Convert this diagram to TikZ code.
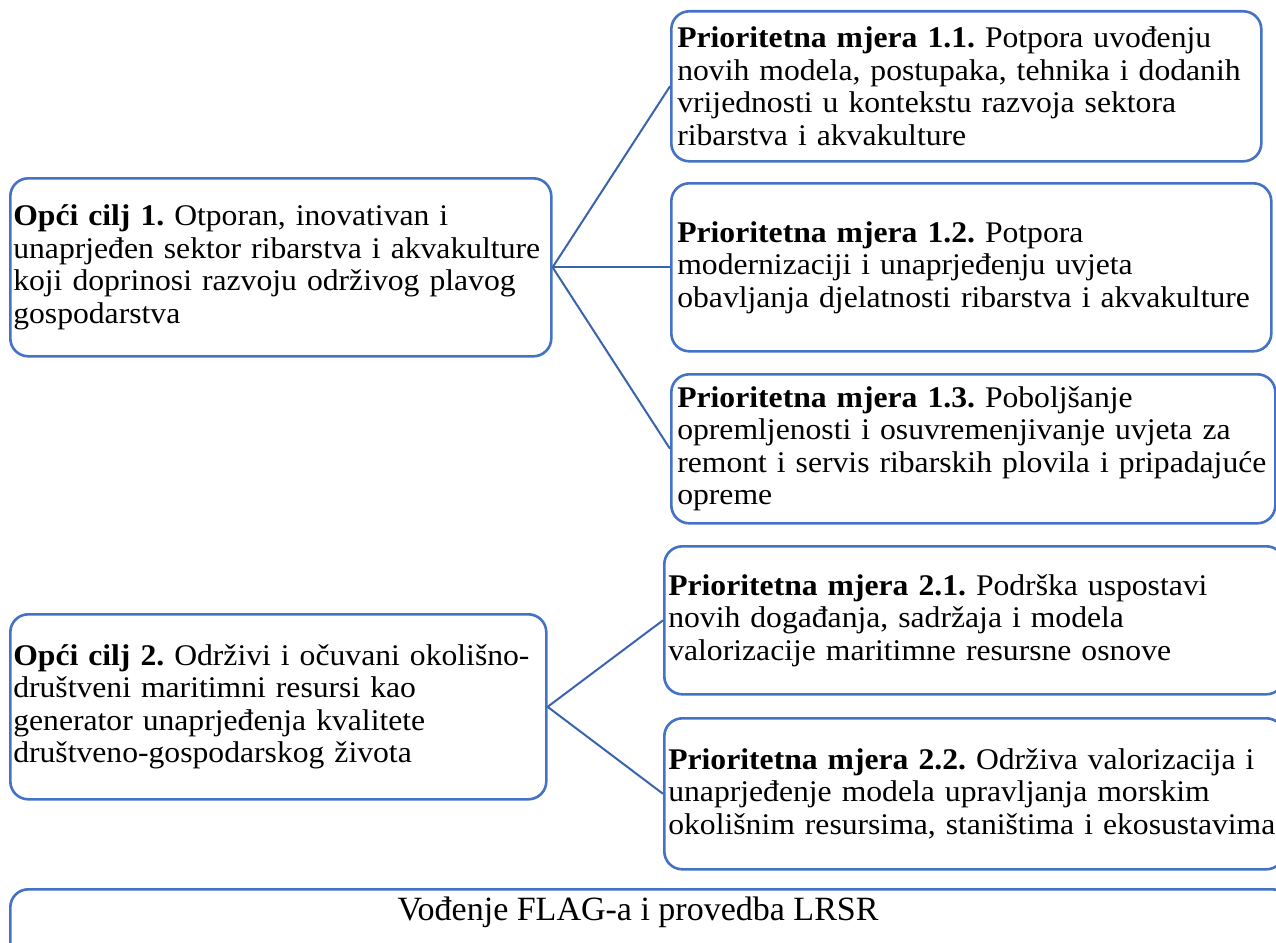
\documentclass[tikz,border=0pt]{standalone}
\usepackage{fontspec}
\setmainfont{Liberation Serif}[FakeStretch=1.055]
\newfontfamily\plainserif{Liberation Serif}
\frenchspacing
\definecolor{boxblue}{HTML}{4472C4}
\definecolor{lineblue}{HTML}{3A63AE}
\newcommand\lline[1]{\mbox{#1}}
\tikzset{
  itembox/.style={draw=boxblue, line width=2.6pt, rounded corners=18pt, anchor=north west,
    inner xsep=6pt, inner ysep=0pt, align=left, fill=white,
    font=\fontsize{30}{32.5}\selectfont},
  link/.style={draw=lineblue, line width=2pt},
  bottomtext/.style={font=\plainserif\fontsize{34}{36}\selectfont, inner sep=0pt},
}
\begin{document}
\begin{tikzpicture}[x=1pt,y=-1pt]
\useasboundingbox (0,0) rectangle (1276,942);
\clip (0,0) rectangle (1276,942);
% goals
\node[itembox, minimum width=541pt, minimum height=178pt, text width=535pt, inner xsep=3pt] (g1) at (9,177)
 {\lline{\textbf{Opći cilj 1.} Otporan, inovativan i}\\\lline{unaprjeđen sektor ribarstva i akvakulture}\\\lline{koji doprinosi razvoju održivog plavog}\\\lline{gospodarstva}};
\node[itembox, minimum width=536pt, minimum height=185pt, text width=530pt, inner xsep=3pt] (g2) at (9,613)
 {\lline{\textbf{Opći cilj 2.} Održivi i očuvani okolišno-}\\\lline{društveni maritimni resursi kao}\\\lline{generator unaprjeđenja kvalitete}\\\lline{društveno-gospodarskog života}};
% measures
\node[itembox, minimum width=590pt, minimum height=150pt, text width=578pt] (m11) at (670,10)
 {\lline{\textbf{Prioritetna mjera 1.1.} Potpora uvođenju}\\\lline{novih modela, postupaka, tehnika i dodanih}\\\lline{vrijednosti u kontekstu razvoja sektora}\\\lline{ribarstva i akvakulture}};
\node[itembox, minimum width=600pt, minimum height=168pt, text width=588pt] (m12) at (670,182)
 {\lline{\textbf{Prioritetna mjera 1.2.} Potpora}\\\lline{modernizaciji i unaprjeđenju uvjeta}\\\lline{obavljanja djelatnosti ribarstva i akvakulture}};
\node[itembox, minimum width=604pt, minimum height=149pt, text width=592pt] (m13) at (670,373)
 {\lline{\textbf{Prioritetna mjera 1.3.} Poboljšanje}\\\lline{opremljenosti i osuvremenjivanje uvjeta za}\\\lline{remont i servis ribarskih plovila i pripadajuće}\\\lline{opreme}};
\node[itembox, minimum width=620pt, minimum height=148pt, text width=612pt, inner xsep=4pt] (m21) at (663,545)
 {\lline{\textbf{Prioritetna mjera 2.1.} Podrška uspostavi}\\\lline{novih događanja, sadržaja i modela}\\\lline{valorizacije maritimne resursne osnove}};
\node[itembox, minimum width=620pt, minimum height=151pt, text width=612pt, inner xsep=4pt] (m22) at (663,717)
 {\lline{\textbf{Prioritetna mjera 2.2.} Održiva valorizacija i}\\\lline{unaprjeđenje modela upravljanja morskim}\\\lline{okolišnim resursima, staništima i ekosustavima}};
% bottom
\node[itembox, minimum width=1280pt, minimum height=80pt] (b) at (9,888) {};
\node[bottomtext] (bt) at (638,912) {Vođenje FLAG-a i provedba LRSR};
% connectors
\draw[link] (g1.east) -- (m11.west);
\draw[link] (g1.east) -- (m12.west);
\draw[link] (g1.east) -- (m13.west);
\draw[link] (g2.east) -- (m21.west);
\draw[link] (g2.east) -- (m22.west);
\end{tikzpicture}
\end{document}
